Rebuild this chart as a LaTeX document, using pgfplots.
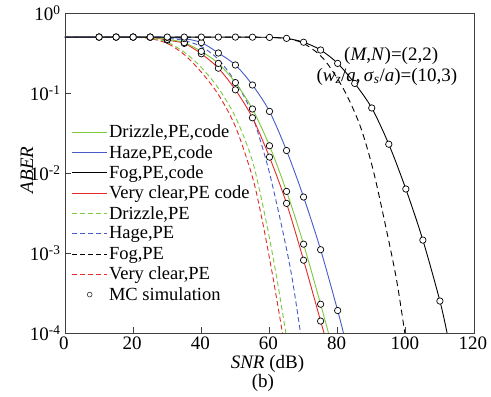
\documentclass[border=0pt]{standalone}
\usepackage{fontspec}
\setmainfont{Liberation Serif}
\usepackage{pgfplots}
\pgfplotsset{compat=1.18}
\definecolor{cgreen}{RGB}{125,200,60}
\definecolor{cblue}{RGB}{70,90,200}
\definecolor{cred}{RGB}{230,40,40}
\begin{document}
\begin{tikzpicture}
\path[use as bounding box] (-65pt,-64pt) rectangle (426pt,333pt);
\begin{axis}[
  at={(0pt,0pt)}, anchor=south west,
  scale only axis, width=409pt, height=320pt,
  xmin=0, xmax=120, ymode=log, ymin=1e-4, ymax=1,
  xtick={0,20,40,60,80,100,120},
  ytick={1e-4,1e-3,1e-2,1e-1,1},
  yticklabels={10\textsuperscript{-4},10\textsuperscript{-3},10\textsuperscript{-2},10\textsuperscript{-1},10\textsuperscript{0}},
  yminorticks=false,
  tick pos=left, tick align=inside, major tick length=6pt,
  tick style={line width=0.8pt, black!75},
  axis line style={line width=0.9pt, black!75},
  /pgf/number format/assume math mode=true,
  tick label style={font=\fontsize{19}{22}\selectfont},
  yticklabel style={xshift=-1pt},
  xticklabel style={xshift=-1pt},
  legend style={at={(0.016,0.655)}, anchor=north west, draw=none, fill=none,
    font=\fontsize{18.5}{21}\selectfont, inner sep=0pt,
    nodes={inner sep=1.4pt}, row sep={20.3pt,between origins}},
  legend cell align=left,
  legend image code/.code={\draw[mark repeat=2,mark phase=2,#1] plot coordinates {(0pt,0pt) (17.5pt,0pt) (35pt,0pt)};},
]
% ---- PE (dashed) curves
\addplot[cred, line width=0.9pt, dash pattern=on 5pt off 3pt, smooth, forget plot] coordinates {
(0,0.5)(15,0.5)(20,0.4989)(25,0.4786)(30,0.4169)(35,0.302)(40,0.182)(45,0.0955)(50,0.038)(55,0.00891)(58,0.0024)(61,0.000501)(63.8,0.0001)};
\addplot[cgreen, line width=0.9pt, dash pattern=on 5pt off 3pt, smooth, forget plot] coordinates {
(0,0.5)(15,0.5)(20,0.4989)(25,0.4842)(30,0.4315)(35,0.3236)(40,0.2089)(45,0.1148)(50,0.0501)(55,0.01413)(59,0.00251)(62,0.000525)(64.8,0.0001)};
\addplot[cblue, line width=0.9pt, dash pattern=on 5pt off 3pt, smooth, forget plot] coordinates {
(0,0.5)(15,0.5)(25,0.4955)(30,0.4842)(35,0.4519)(40,0.3802)(45,0.263)(50,0.138)(54,0.0676)(57,0.0282)(60,0.01)(63.5,0.00224)(66.5,0.000525)(69.1,0.0001)};
\addplot[black, line width=0.9pt, dash pattern=on 6pt off 4pt, smooth, forget plot] coordinates {
(0,0.5)(20,0.5)(40,0.5)(55,0.4989)(60,0.4943)(65,0.4786)(70,0.4169)(75.8,0.2692)(81.6,0.1148)(86.5,0.0398)(90.4,0.01096)(94.3,0.00195)(97.3,0.000457)(99.7,0.0001)};
% ---- PE, code (solid) curves
\addplot[cred, line width=0.9pt, smooth, forget plot] coordinates {
(0,0.5)(15,0.5)(25,0.4955)(30,0.4571)(35,0.4169)(40,0.309)(45,0.2042)(50,0.1096)(55,0.049)(60,0.0158)(65,0.00417)(70,0.000813)(75,0.000141)(76,0.0001)};
\addplot[cgreen, line width=0.9pt, smooth, forget plot] coordinates {
(0,0.5)(15,0.5)(25,0.4966)(30,0.4677)(35,0.4266)(40,0.3311)(45,0.2344)(50,0.1349)(55,0.0631)(60,0.0219)(65,0.00589)(70,0.00129)(75,0.000229)(77.3,0.0001)};
\addplot[cblue, line width=0.9pt, smooth, forget plot] coordinates {
(0,0.5)(15,0.5)(25,0.5)(30,0.4955)(35,0.4786)(40,0.4266)(45,0.3162)(50,0.2239)(55,0.1259)(60,0.0589)(65,0.0191)(70,0.00501)(75,0.0011)(80,0.000191)(81.7,0.0001)};
\addplot[black, line width=0.9pt, smooth, forget plot] coordinates {
(0,0.5)(20,0.5)(40,0.5)(50,0.5)(55,0.4989)(60,0.4955)(65,0.482)(70,0.4315)(75,0.3447)(80,0.2344)(85,0.1318)(90,0.065)(95,0.0229)(100,0.00631)(105,0.00145)(110,0.000251)(112.1,0.0001)};
% ---- MC simulation markers
\addplot[only marks, mark=*, mark size=3.2pt, mark options={fill=white, draw=black, line width=0.7pt}, forget plot] coordinates {
(10,0.5)(15,0.5)(20,0.5)(25,0.5)(30,0.4571)(35,0.4169)(40,0.309)(45,0.2042)(50,0.1096)(55,0.049)(60,0.0158)(65,0.00417)(70,0.000813)(75,0.000141)};
\addplot[only marks, mark=*, mark size=3.2pt, mark options={fill=white, draw=black, line width=0.7pt}, forget plot] coordinates {
(10,0.5)(15,0.5)(20,0.5)(25,0.4966)(30,0.4677)(35,0.4266)(40,0.3311)(45,0.2344)(50,0.1349)(55,0.0631)(60,0.0219)(65,0.00589)(70,0.00129)(75,0.000229)};
\addplot[only marks, mark=*, mark size=3.2pt, mark options={fill=white, draw=black, line width=0.7pt}, forget plot] coordinates {
(10,0.5)(15,0.5)(20,0.5)(25,0.5)(30,0.4955)(35,0.4786)(40,0.4266)(45,0.3162)(50,0.2239)(55,0.1259)(60,0.0589)(65,0.0191)(70,0.00501)(75,0.0011)(80,0.000191)};
\addplot[only marks, mark=*, mark size=3.2pt, mark options={fill=white, draw=black, line width=0.7pt}, forget plot] coordinates {
(10,0.5)(15,0.5)(20,0.5)(25,0.5)(30,0.5)(35,0.5)(40,0.5)(45,0.5)(50,0.5)(55,0.4989)(60,0.4955)(65,0.482)(70,0.4315)(75,0.3447)(80,0.2344)(85,0.1318)(90,0.065)(95,0.0229)(100,0.00631)(105,0.00145)(110,0.000251)};
% ---- legend
\addlegendimage{cgreen, line width=0.9pt}
\addlegendentry{Drizzle,PE,code}
\addlegendimage{cblue, line width=0.9pt}
\addlegendentry{Haze,PE,code}
\addlegendimage{black, line width=0.9pt}
\addlegendentry{Fog,PE,code}
\addlegendimage{cred, line width=0.9pt}
\addlegendentry{Very clear,PE code}
\addlegendimage{cgreen, line width=0.9pt, dash pattern=on 5pt off 3pt}
\addlegendentry{Drizzle,PE}
\addlegendimage{cblue, line width=0.9pt, dash pattern=on 5pt off 3pt}
\addlegendentry{Hage,PE}
\addlegendimage{black, line width=0.9pt, dash pattern=on 5pt off 3pt}
\addlegendentry{Fog,PE}
\addlegendimage{cred, line width=0.9pt, dash pattern=on 5pt off 3pt}
\addlegendentry{Very clear,PE}
\addlegendimage{only marks, mark=o, mark size=2.4pt, black!80, line width=0.6pt}
\addlegendentry{MC simulation}
\end{axis}
\node[anchor=west, font=\fontsize{19}{22}\selectfont] at (275.7pt,277pt) {(\textit{M},\textit{N})=(2,2)};
\node[anchor=west, font=\fontsize{19}{22}\selectfont] at (248pt,256.3pt) {(\textit{w}\textsubscript{\textit{z}}/\textit{a},\,\textit{σ}\textsubscript{\textit{s}}/\textit{a})=(10,3)};
\node[font=\fontsize{19}{22}\selectfont] at (202.5pt,-31pt) {\textit{SNR} (dB)};
\node[font=\fontsize{19}{22}\selectfont] at (198pt,-50pt) {(b)};
\node[rotate=90, font=\fontsize{19}{22}\selectfont] at (-38pt,163pt) {\textit{ABER}};
\end{tikzpicture}
\end{document}
